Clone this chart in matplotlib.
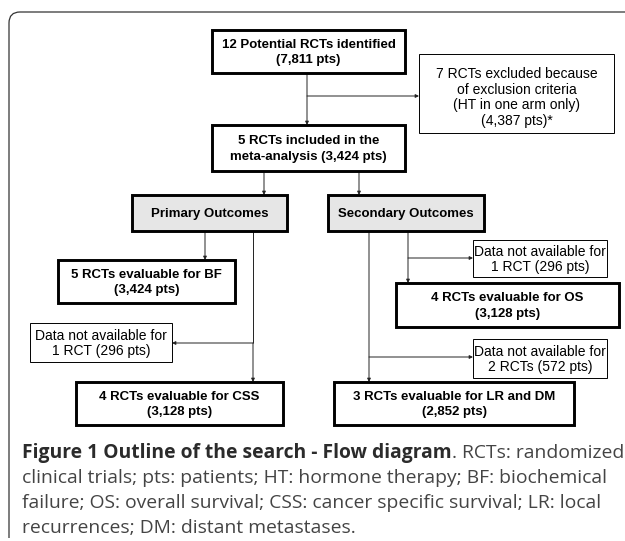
import matplotlib
matplotlib.use("Agg")
import matplotlib.pyplot as plt
from matplotlib.patches import Rectangle
from matplotlib.path import Path
from matplotlib.patches import PathPatch

# box texts of the flow diagram
top_labels = ["12 Potential RCTs identified\n(7,811 pts)",
              "5 RCTs included in the\nmeta-analysis (3,424 pts)"]
excluded_label = "7 RCTs excluded because\nof exclusion criteria\n(HT in one arm only)\n(4,387 pts)*"
outcome_labels = ["Primary Outcomes", "Secondary Outcomes"]
result_labels = ["5 RCTs evaluable for BF\n(3,424 pts)",
                 "4 RCTs evaluable for CSS\n(3,128 pts)",
                 "4 RCTs evaluable for OS\n(3,128 pts)",
                 "3 RCTs evaluable for LR and DM\n(2,852 pts)"]
missing_labels = ["Data not available for\n1 RCT (296 pts)",
                  "Data not available for\n1 RCT (296 pts)",
                  "Data not available for\n2 RCTs (572 pts)"]
caption_bold = "Figure 1 Outline of the search - Flow diagram"
caption_lines = [". RCTs: randomized",
                 "clinical trials; pts: patients; HT: hormone therapy; BF: biochemical",
                 "failure; OS: overall survival; CSS: cancer specific survival; LR: local",
                 "recurrences; DM: distant metastases."]

W, H = 625, 541
fig = plt.figure(figsize=(W / 100, H / 100), dpi=100)
ax = fig.add_axes([0, 0, 1, 1])
ax.set_xlim(0, W)
ax.set_ylim(H, 0)
ax.axis('off')

FONT = "Liberation Sans"
LINE = "#222222"
BOLD_SIZE = 9.5
REG_SIZE = 10


def box(x0, y0, x1, y1, text, thick=True, fill="white", dy=1):
    ax.add_patch(Rectangle((x0, y0), x1 - x0, y1 - y0, facecolor=fill,
                           edgecolor="black", lw=2.1 if thick else 0.7, zorder=2))
    ax.text((x0 + x1) / 2, (y0 + y1) / 2 + dy, text, ha="center", va="center",
            multialignment="center",
            fontsize=BOLD_SIZE if thick else REG_SIZE,
            fontweight="bold" if thick else "normal",
            family=FONT, color="black", zorder=3,
            linespacing=1.4 if thick else 1.15)


def line(x0, y0, x1, y1):
    ax.plot([x0, x1], [y0, y1], color=LINE, lw=0.7, zorder=1, solid_capstyle="butt")


def arrow(x0, y0, x1, y1):
    ax.annotate("", xy=(x1, y1), xytext=(x0, y0),
                arrowprops=dict(arrowstyle="-|>", color=LINE, lw=0.7,
                                mutation_scale=5, shrinkA=0, shrinkB=0),
                zorder=1)


# outer frame (top and left edges with a rounded corner)
r = 11
verts = [(W, 12), (9 + r, 12), (9, 12), (9, 12 + r), (9, 538)]
codes = [Path.MOVETO, Path.LINETO, Path.CURVE3, Path.CURVE3, Path.LINETO]
ax.add_patch(PathPatch(Path(verts, codes), facecolor="none", edgecolor="#333333", lw=0.9))

# top part
box(212, 30, 405, 73, top_labels[0])
arrow(307, 73, 307, 125)
arrow(307, 96, 419, 96)
box(419, 54, 614, 133, excluded_label, thick=False, dy=4)
box(212, 125, 405, 171, top_labels[1])
arrow(264, 171, 264, 195)
arrow(359, 171, 359, 195)

# outcome headers
box(132, 195, 287, 231, outcome_labels[0], fill="#e6e6e6")
box(328, 195, 484, 231, outcome_labels[1], fill="#e6e6e6")

# primary branch
arrow(205, 231, 205, 260)
box(58, 260, 235, 303, result_labels[0])
line(253, 231, 253, 343)
arrow(253, 343, 172, 343)
box(30, 323, 172, 362, missing_labels[0], thick=False)
arrow(253, 343, 253, 382)
box(76, 382, 283, 425, result_labels[1])

# secondary branch
arrow(408, 231, 408, 283)
arrow(408, 258, 473, 258)
box(473, 240, 607, 277, missing_labels[1], thick=False)
box(396, 283, 619, 327, result_labels[2])
arrow(369, 231, 369, 382)
arrow(369, 357, 473, 357)
box(473, 339, 607, 378, missing_labels[2], thick=False)
box(334, 382, 574, 425, result_labels[3])

# caption
cap_y = [453, 478, 503, 528]
cap_x = 22
CAP_SIZE = 13.9
t = ax.text(cap_x, cap_y[0], caption_bold, ha="left", va="center", family="Open Sans",
            fontsize=CAP_SIZE, fontweight="bold", color="#2b2b2b")
fig.canvas.draw()
bb = t.get_window_extent()
x_after = ax.transData.inverted().transform((bb.x1, bb.y0))[0]
ax.text(x_after, cap_y[0], caption_lines[0], ha="left", va="center", family="Open Sans",
        fontsize=CAP_SIZE, color="#444444")
for yy, txt in zip(cap_y[1:], caption_lines[1:]):
    ax.text(cap_x, yy, txt, ha="left", va="center", family="Open Sans",
            fontsize=CAP_SIZE, color="#444444")

fig.savefig("out.png", dpi=100, facecolor="white")
